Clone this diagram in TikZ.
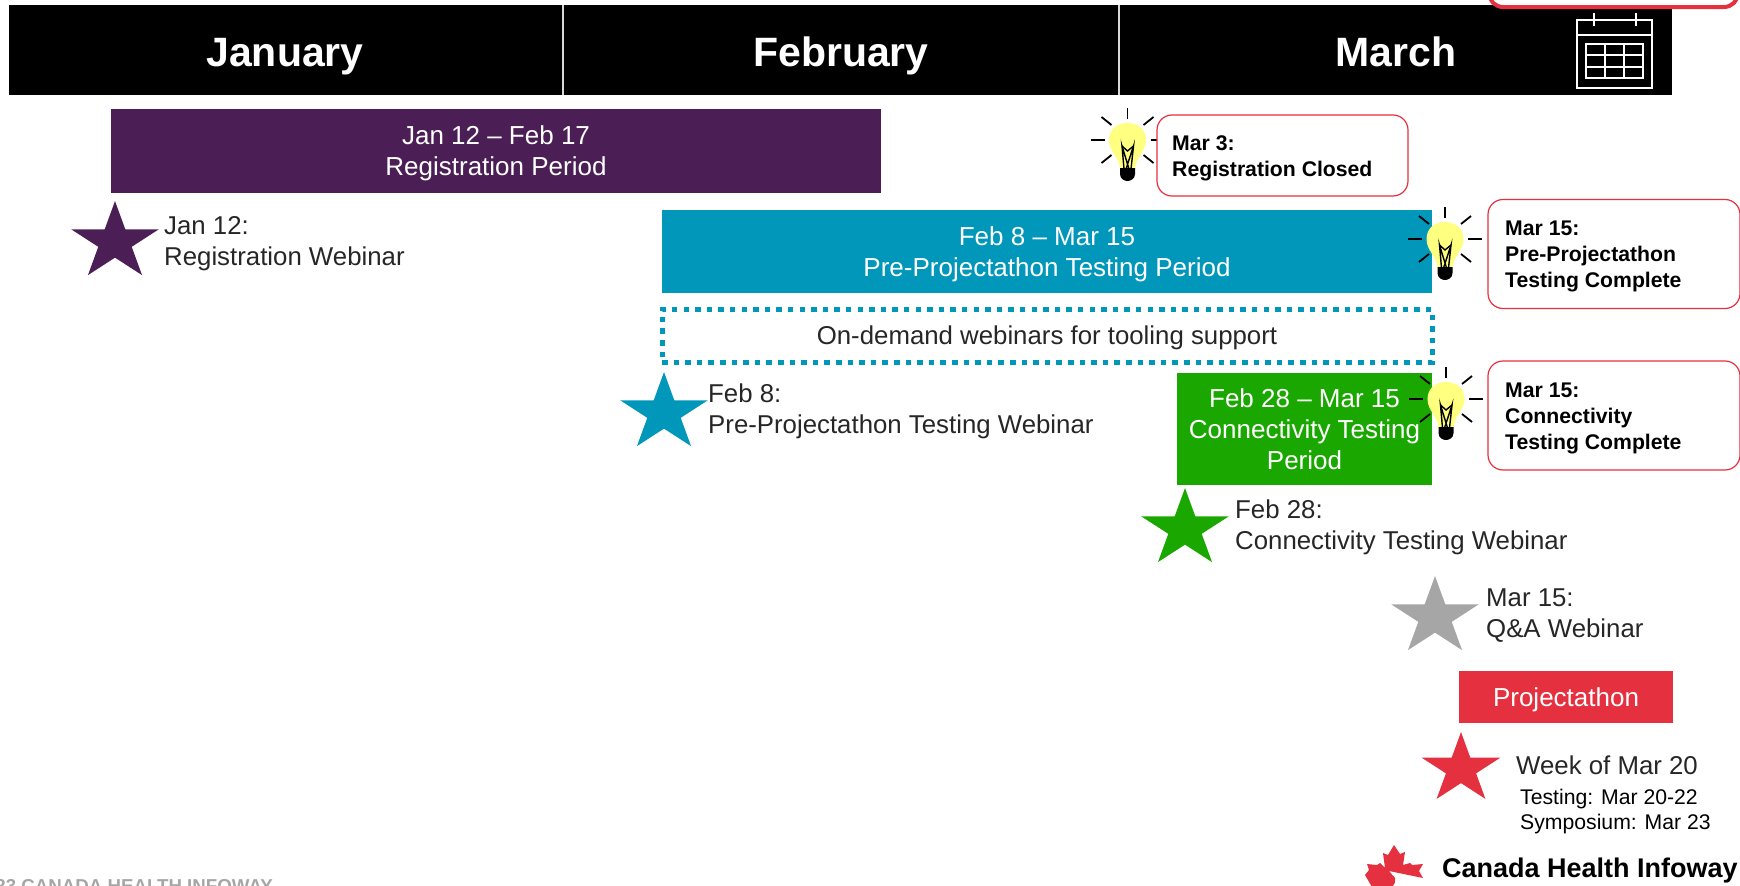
\documentclass[tikz,border=0pt]{standalone}
\usepackage{fontspec}
\setmainfont{Liberation Sans}
\usetikzlibrary{calc,shapes.geometric}

\definecolor{regpurple}{HTML}{4B1F55}
\definecolor{testblue}{HTML}{0097BA}
\definecolor{connectgreen}{HTML}{1AA800}
\definecolor{infored}{HTML}{E4303F}
\definecolor{webgray}{HTML}{A6A6A6}
\definecolor{bulbyellow}{HTML}{FFFF80}

\tikzset{
    month/.style={anchor=base, text=white, font=\fontsize{41}{41}\selectfont\bfseries},
    period/.style={inner sep=0pt, text=white, align=center, text depth=0pt, font=\fontsize{26}{31}\selectfont},
    note/.style={anchor=west, inner sep=0pt, align=left, text=black!85, font=\fontsize{25.8}{31}\selectfont},
    callout/.style={draw=infored, line width=1.2pt, rounded corners=15pt, fill=white},
    callouttext/.style={anchor=west, inner sep=0pt, align=left, font=\fontsize{21.2}{26}\selectfont\bfseries},
    webstar/.style={star, star points=5, star point ratio=2.618, inner sep=0pt, minimum size=#1, transform shape, yscale=.89},
    bulb/.pic={
        \draw [line width=1.8pt] (0,-32) -- (0,-21);
        \draw [line width=1.8pt] (-37,0) -- (-23,0);
        \draw [line width=1.8pt] (23,0) -- (37,0);
        \draw [line width=1.8pt] (-26,-23) -- (-16,-15);
        \draw [line width=1.8pt] (26,-23) -- (16,-15);
        \draw [line width=1.8pt] (-26,23) -- (-16,15);
        \draw [line width=1.8pt] (26,23) -- (16,15);
        \fill [bulbyellow] (-7.5,29) .. controls (-8,17) and (-18.5,12) .. (-18.5,0)
            .. controls (-18.5,-11) and (-10,-17) .. (0,-17)
            .. controls (10,-17) and (18.5,-11) .. (18.5,0)
            .. controls (18.5,12) and (8,17) .. (7.5,29) -- cycle;
        \draw [line width=1.4pt] (-3.5,29) -- (-5.5,6) -- (1.5,29) (3.5,29) -- (6,6) -- (-1.5,29);
        \draw [line width=1.4pt] (-5.5,6) -- (0,11) -- (6,6);
        \fill [black] (-7.5,28) -- (7.5,28) -- (7.5,34) .. controls (7.5,39) and (3,41) .. (0,41)
            .. controls (-3,41) and (-7.5,39) .. (-7.5,34) -- cycle;
    }
}

\begin{document}
\begin{tikzpicture}[x=1pt, y=-1pt]
    \useasboundingbox (0,0) rectangle (1740,886);
    \clip (0,0) rectangle (1740,886);

    \node (header) at (840.5,50) [fill=black, inner sep=0pt, minimum width=1663pt, minimum height=90pt] {};
    \draw [white!85!black, line width=2pt] (563,5) -- (563,95);
    \draw [white!85!black, line width=2pt] (1119,5) -- (1119,95);
    \node (jan) at (285,66.5) [month] {January};
    \node (feb) at (841,66.5) [month] {February};
    \node (mar) at (1396,66.5) [month] {March};

    \draw [white, line width=2pt] (1577,20) rectangle (1652,88);
    \draw [white, line width=2pt] (1577,35) -- (1652,35);
    \draw [white, line width=2pt] (1594,13) -- (1594,26);
    \draw [white, line width=2pt] (1636,13) -- (1636,26);
    \draw [white, line width=2pt] (1586,44) rectangle (1643,78);
    \foreach \y in {55,67}
        {
            \draw [white, line width=2pt] (1586,\y) -- (1643,\y);
        }
    \foreach \x in {1605,1624}
        {
            \draw [white, line width=2pt] (\x,44) -- (\x,78);
        }

    \draw [infored, line width=4pt, rounded corners=14pt] (1489,-30) rectangle (1738,7);

    \node (regbar) at (496,151) [period, fill=regpurple, minimum width=770pt, minimum height=84pt] {Jan 12 – Feb 17\\Registration Period};
    \node (prebar) at (1047,251.5) [period, fill=testblue, minimum width=770pt, minimum height=83pt] {Feb 8 – Mar 15\\Pre-Projectathon Testing Period};
    \node (demand) at (1047,335.5) [draw=testblue, line width=5pt, dash pattern=on 5.5pt off 6.1pt, inner sep=0pt, minimum width=770pt, minimum height=53pt, text depth=0pt, font=\fontsize{25.8}{31}\selectfont, text=black!85] {On-demand webinars for tooling support};
    \node (conbar) at (1304.5,429) [period, fill=connectgreen, minimum width=255pt, minimum height=112pt] {Feb 28 – Mar 15\\Connectivity Testing\\Period};
    \node (projbar) at (1566,697) [period, fill=infored, minimum width=214pt, minimum height=52pt] {Projectathon};

    \node (regstar) at (115,242) [webstar=92pt, fill=regpurple] {};
    \node (prestar) at (664,413) [webstar=92pt, fill=testblue] {};
    \node (constar) at (1185,529) [webstar=92pt, fill=connectgreen] {};
    \node (qastar) at (1435,617) [webstar=92pt, fill=webgray] {};
    \node (weekstar) at (1461,769) [webstar=83pt, fill=infored] {};

    \node (regnote) at (164,244) [note] {Jan 12:\\Registration Webinar};
    \node (prenote) at (708,411.5) [note] {Feb 8:\\Pre-Projectathon Testing Webinar};
    \node (connote) at (1235,527.5) [note] {Feb 28:\\Connectivity Testing Webinar};
    \node (qanote) at (1486,616) [note] {Mar 15:\\Q\&A Webinar};
    \node (weeknote) at (1516,765.5) [note] {Week of Mar 20};
    \node (weekdays) at (1520,812) [anchor=west, inner sep=0pt, align=left, font=\fontsize{21.2}{25}\selectfont] {Testing: Mar 20-22\\Symposium: Mar 23};

    \pic at (1127.5,140) {bulb};
    \pic at (1445,239) {bulb};
    \pic at (1446,399) {bulb};

    \node (regbox) at (1282.5,155.5) [callout, minimum width=251pt, minimum height=81pt, inner sep=0pt] {};
    \node (prebox) at (1614,254) [callout, minimum width=252pt, minimum height=109pt, inner sep=0pt] {};
    \node (conbox) at (1614,415.5) [callout, minimum width=252pt, minimum height=109pt, inner sep=0pt] {};
    \node (regtext) at (1172,158.5) [callouttext] {Mar 3:\\Registration Closed};
    \node (pretext) at (1505,256.5) [callouttext] {Mar 15:\\Pre-Projectathon\\Testing Complete};
    \node (context) at (1505,418.5) [callouttext] {Mar 15:\\Connectivity\\Testing Complete};

    \node (copy) at (273,892) [anchor=base east, inner sep=0pt, text=webgray, font=\fontsize{18.7}{19}\selectfont\bfseries] {© 2023 CANADA HEALTH INFOWAY};

    \fill [infored] (1394,845) -- (1400,854) -- (1405,852) -- (1403,865) -- (1410,863) -- (1412,865) -- (1423,864) -- (1419,871) -- (1423,878) -- (1389,871) -- (1395,878) .. controls (1396,882) and (1394,885) .. (1392,887) -- (1372,887) -- (1365,875) -- (1369,870) -- (1367,864) -- (1377,865) -- (1380,863) -- (1385,868) -- (1383,853) -- (1388,855) -- cycle;
    \node (logo) at (1442,871) [anchor=west, inner sep=0pt, font=\fontsize{27}{30}\selectfont\bfseries] {Canada Health Infoway};
\end{tikzpicture}
\end{document}
